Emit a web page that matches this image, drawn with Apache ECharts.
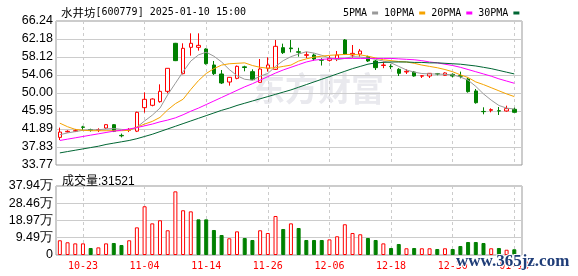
<!DOCTYPE html>
<html><head><meta charset="utf-8">
<script src="https://cdn.jsdelivr.net/npm/echarts@6/dist/echarts.min.js"></script>
<style>html,body{margin:0;padding:0;background:#fff}#c{width:578px;height:276px}</style>
</head><body><div id="c"></div>
<script>
// ---- data ----
const dates = ['10-18','10-21','10-22','10-23','10-24','10-25','10-28','10-29','10-30','10-31',
  '11-01','11-04','11-05','11-06','11-07','11-08','11-11','11-12','11-13','11-14',
  '11-15','11-18','11-19','11-20','11-21','11-22','11-25','11-26','11-27','11-28',
  '11-29','12-02','12-03','12-04','12-05','12-06','12-09','12-10','12-11','12-12',
  '12-13','12-16','12-17','12-18','12-19','12-20','12-23','12-24','12-25','12-26',
  '12-27','12-30','12-31','01-02','01-03','01-06','01-07','01-08','01-09','01-10'];
const tickLabels = ['10-23','11-04','11-14','11-26','12-06','12-18','12-30','01-10'];
const opens  = [40.0,41.25,41.4,42.35,41.75,41.65,42.11,42.86,40.45,41.6,
  41.4,46.70,47.23,48.05,50.38,61.21,54.36,60.30,60.30,59.93,
  56.32,54.29,52.48,53.31,55.9,54.82,52.41,55.57,55.34,60.23,
  60.15,59.3,58.5,58.57,57.5,57.37,57.75,61.96,58.57,58.79,
  58.19,57.22,56.2,56.0,55.34,54.75,54.74,53.8,53.84,54.35,
  53.99,54.21,53.9,53.16,50.46,45.85,46.1,46.0,45.95,46.33];
const closes = [41.2,41.37,41.5,42.27,41.6,41.75,42.86,41.37,40.35,41.7,
  45.65,48.58,48.65,50.38,55.57,57.30,60.08,61.21,60.75,56.62,
  54.36,52.26,53.54,56.02,55.75,53.01,55.42,56.32,60.53,59.10,
  60.0,59.2,58.64,57.67,57.4,57.82,58.57,58.79,58.94,59.47,
  57.22,55.72,56.32,55.94,54.44,54.9,53.84,53.9,54.44,54.29,
  54.52,53.84,53.8,50.31,47.82,45.8,46.25,45.95,46.48,45.65];
const lows   = [39.4,41.1,41.2,41.7,41.3,41.2,41.9,41.2,40.0,41.2,
  41.2,45.58,47.0,47.82,49.93,57.2,54.2,58.42,59.55,56.4,
  54.06,52.03,51.66,53.1,54.9,52.9,52.3,54.82,55.2,58.8,
  59.17,58.2,57.85,57.3,56.2,57.1,57.2,58.6,57.97,58.19,
  57.0,55.19,55.6,55.4,53.84,54.29,53.7,53.39,53.39,54.0,
  53.9,53.54,53.31,50.08,47.60,45.2,45.65,45.05,45.80,45.6];
const highs  = [42.2,41.6,41.9,42.6,41.95,42.05,42.95,43.0,40.85,42.1,
  45.8,50.16,48.8,51.96,55.6,61.3,61.21,63.46,63.46,60.1,
  57.22,55.19,53.6,56.2,56.15,55.34,57.67,58.05,61.96,61.13,
  61.96,60.2,59.3,58.9,57.85,58.4,59.47,62.18,60.83,59.93,
  58.42,57.45,57.1,56.5,55.6,55.34,54.97,54.06,54.5,54.52,
  54.67,54.44,54.82,53.46,50.91,46.78,46.55,46.85,47.15,46.7];
const volumes = [81000,70000,64000,64000,38500,42000,64000,66000,55000,81000,
  152000,268000,174000,191000,136000,350000,246000,240000,196000,196000,
  137500,110000,92000,130000,93500,82500,136000,121000,214500,143000,
  174000,148500,82500,82500,82500,86000,103000,169000,121000,114000,
  93500,82500,64000,38500,60500,37000,38500,37000,37000,33000,
  37000,33000,49500,71500,71500,66000,37000,38500,29000,31521];
const ma5  = [40.6,41.0,41.3,41.6,41.7,41.7,41.9,42.0,41.8,41.6,42.3,43.7,45.0,46.6,49.6,52.2,54.8,57.2,58.6,59.2,
  58.3,57.0,55.3,53.9,53.1,52.9,53.8,54.4,56.0,57.3,58.2,58.8,59.3,59.0,58.5,57.9,57.5,57.8,58.2,58.1,
  57.9,57.6,57.2,56.8,56.0,55.2,54.7,54.4,54.3,54.3,54.2,54.1,53.6,52.9,51.5,49.8,48.4,47.2,46.6,46.4];
const ma10 = [43.2,42.4,41.8,41.6,41.5,41.5,41.5,41.5,41.5,41.6,42.3,43.0,43.6,44.5,46.2,47.6,48.6,50.8,52.8,54.4,
  55.5,56.3,56.6,56.7,56.8,56.2,55.8,55.6,55.7,56.0,56.3,57.2,57.7,58.1,58.3,58.5,58.6,58.7,58.7,58.6,
  58.3,57.9,57.5,57.3,57.1,57.0,56.7,56.3,56.0,55.7,55.3,54.8,54.1,53.5,52.5,51.9,51.2,50.5,49.8,49.2];
const ma20 = [39.3,39.6,39.9,40.2,40.5,40.8,41.1,41.4,41.6,41.9,42.2,42.6,43.0,43.5,43.9,44.4,45.1,45.9,46.6,47.4,
  48.2,49.0,49.8,50.6,51.4,52.1,52.9,53.7,54.5,55.2,55.8,56.4,57.0,57.4,57.6,57.7,57.8,57.8,57.8,57.8,
  57.8,57.8,57.8,57.8,57.7,57.6,57.5,57.3,57.0,56.8,56.5,56.2,55.8,55.3,54.8,54.3,53.8,53.2,52.7,52.2];
const ma30 = [36.5,36.8,37.1,37.4,37.7,38.0,38.4,38.7,39.0,39.3,39.7,40.2,40.7,41.3,41.9,42.5,43.1,43.7,44.3,44.9,
  45.5,46.1,46.6,47.2,47.7,48.2,48.7,49.2,49.7,50.2,50.7,51.3,51.9,52.5,53.1,53.7,54.3,54.9,55.5,56.0,
  56.5,56.8,56.9,57.0,57.0,57.0,56.9,56.9,56.8,56.8,56.7,56.6,56.5,56.3,56.1,55.8,55.5,55.1,54.7,54.3];
const priceTicks = [33.77,37.83,41.89,45.95,50.00,54.06,58.12,62.18,66.24];
const volTicks = [0,94900,189700,284600,379400];
const stockName = '水井坊';
const stockInfo = '[600779] 2025-01-10 15:00';
const maNames = ['5PMA','10PMA','20PMA','30PMA'];

// ---- build ----
const RED = '#ff0000', GREEN = '#008000';
const tickIdx = tickLabels.map(t => dates.indexOf(t));
const candleData = dates.map((d, i) => [i, opens[i], closes[i], lows[i], highs[i]]);
const volData = volumes.map((v, i) => {
  const ref = i === 0 ? opens[0] : closes[i - 1];
  const up = closes[i] >= ref;
  return { value: [i, v], itemStyle: up ? { color: '#fff', borderColor: RED, borderWidth: 1 } : { color: GREEN, borderColor: GREEN, borderWidth: 1 } };
});
const maColors = ['#999999', '#f5a300', '#ff00ff', '#006633'];
const maSeries = [ma5, ma10, ma20, ma30].map((arr, k) => ({
  name: maNames[k], type: 'line', xAxisIndex: 0, yAxisIndex: 0,
  data: arr.map((v, i) => [i, v]), showSymbol: false, symbol: 'none',
  lineStyle: { width: 1, color: maColors[k] }, itemStyle: { color: maColors[k] },
  z: 5, silent: true
}));

const splitDash = { show: true, lineStyle: { color: '#cccccc', type: [3, 3], width: 1 } };
const splitSolid = { show: true, lineStyle: { color: '#cccccc', width: 1 } };
const axisFont = { fontFamily: 'Liberation Sans', fontSize: 12.5, color: '#000' };

const chart = echarts.init(document.getElementById('c'), null, { renderer: 'canvas' });
chart.setOption({
  animation: false,
  backgroundColor: '#fff',
  title: [
    { text: '{a|' + stockName + '}{b|' + stockInfo + '}', left: 56, top: 2,
      textStyle: { fontWeight: 'normal',
                   rich: { a: { fontFamily: 'Noto Sans CJK SC', fontSize: 11.5, fontWeight: 'normal', color: '#000' },
                           b: { fontFamily: 'DejaVu Sans Mono', fontSize: 10, fontWeight: 'normal', color: '#000' } } } },
    { text: '成交量:' + volumes[volumes.length - 1], left: 57, top: 171,
      textStyle: { fontFamily: 'Liberation Sans, Noto Sans CJK SC', fontSize: 12, fontWeight: 'normal', color: '#000' } }
  ],
  legend: {
    data: maNames, left: 338, top: 3, align: 'right', icon: 'rect',
    itemWidth: 6, itemHeight: 3, itemGap: 6,
    textStyle: { fontFamily: 'DejaVu Sans Mono', fontSize: 10, color: '#000' }
  },
  grid: [
    { left: 56, top: 21, width: 466, height: 144, show: true, borderColor: '#999', borderWidth: 1 },
    { left: 56, top: 186, width: 466, height: 69, show: true, borderColor: '#999', borderWidth: 1 }
  ],
  xAxis: [
    { type: 'value', gridIndex: 0, min: -0.5, max: dates.length, axisLine: { show: false },
      axisTick: { show: false, customValues: tickIdx }, axisLabel: { show: false, customValues: tickIdx },
      splitLine: splitDash },
    { type: 'value', gridIndex: 1, min: -0.5, max: dates.length, axisLine: { show: false },
      axisTick: { show: false, customValues: tickIdx },
      axisLabel: { customValues: tickIdx, formatter: v => dates[Math.round(v)] || '', color: RED,
                   fontFamily: 'DejaVu Sans Mono', fontSize: 10, margin: 6 },
      splitLine: splitDash }
  ],
  yAxis: [
    { type: 'value', gridIndex: 0, min: priceTicks[0], max: priceTicks[priceTicks.length - 1],
      axisLine: { show: false }, axisTick: { show: false, customValues: priceTicks },
      axisLabel: Object.assign({ customValues: priceTicks, formatter: v => v.toFixed(2), margin: 3 }, axisFont),
      splitLine: splitSolid },
    { type: 'value', gridIndex: 1, min: volTicks[0], max: volTicks[volTicks.length - 1],
      axisLine: { show: false }, axisTick: { show: false, customValues: volTicks },
      axisLabel: Object.assign({ customValues: volTicks, formatter: v => v === 0 ? '0' : (v / 10000).toFixed(2) + '万', margin: 3 }, axisFont),
      splitLine: splitSolid }
  ],
  graphic: [
    { type: 'text', left: 252, top: 72, z: -10, silent: true,
      style: { text: '东方财富', fontSize: 33, fontWeight: 'bold', fontFamily: 'Noto Sans CJK SC', fill: '#e9e9ee' } },
    { type: 'text', left: 455, top: 252, z: 100, silent: true,
      style: { text: 'www.365jz.com', fontSize: 17, fontWeight: 'bold', fontFamily: 'Liberation Serif', fill: '#1f3d78',
               stroke: '#ffffff', lineWidth: 2 } }
  ],
  series: [
    { name: 'K', type: 'candlestick', xAxisIndex: 0, yAxisIndex: 0, data: candleData, barWidth: 4,
      itemStyle: { color: '#ffffff', color0: GREEN, borderColor: RED, borderColor0: GREEN, borderWidth: 1 }, z: 3 },
    { name: 'VOL', type: 'bar', xAxisIndex: 1, yAxisIndex: 1, data: volData, barWidth: 4 }
  ].concat(maSeries)
});
</script></body></html>
